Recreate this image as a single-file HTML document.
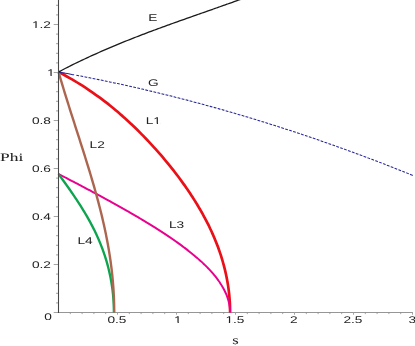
<!DOCTYPE html>
<html><head><meta charset="utf-8"><style>
html,body{margin:0;padding:0;background:#fff;}
body{width:415px;height:346px;overflow:hidden;font-family:"Liberation Sans",sans-serif;}
svg{display:block}
</style></head><body>
<svg width="415" height="346" viewBox="0 0 415 346">
<defs><clipPath id="c0"><path clip-rule="evenodd" d="M-60,-30H60V30H-60ZM-2.31,-1.48H-0.25V0.00H-2.31ZM0.67,-1.48H2.54V0.00H0.67Z"/></clipPath><clipPath id="c1"><path clip-rule="evenodd" d="M-60,-30H60V30H-60ZM-6.35,-1.48H-4.30V0.00H-6.35ZM-3.38,-1.48H-1.50V0.00H-3.38Z"/></clipPath><clipPath id="c2"><path clip-rule="evenodd" d="M-60,-30H60V30H-60ZM-5.01,-0.88H-2.95V0.60H-5.01ZM-2.03,-0.88H-0.16V0.60H-2.03Z"/></clipPath><clipPath id="c3"><path clip-rule="evenodd" d="M-60,-30H60V30H-60ZM-13.10,-0.88H-11.04V0.60H-13.10ZM-10.12,-0.88H-8.25V0.60H-10.12Z"/></clipPath><clipPath id="c4"><path clip-rule="evenodd" d="M-60,-30H60V30H-60ZM0.39,-1.08H2.44V0.40H0.39ZM3.37,-1.08H5.24V0.40H3.37Z"/></clipPath></defs>
<rect width="415" height="346" fill="#fff"/>
<line x1="58.0" y1="312.5" x2="413" y2="312.5" stroke="#969696" stroke-width="1"/>
<g fill="none" stroke-linecap="butt" stroke-linejoin="round">
<path d="M58.58,72.00 C59.53,72.51 62.43,74.03 64.28,75.04 C66.14,76.06 67.96,77.07 69.73,78.09 C71.51,79.10 73.24,80.12 74.94,81.13 C76.64,82.15 78.30,83.16 79.92,84.18 C81.55,85.19 83.14,86.21 84.71,87.22 C86.27,88.24 87.80,89.25 89.30,90.27 C90.80,91.28 92.27,92.30 93.72,93.31 C95.17,94.32 96.59,95.34 97.98,96.35 C99.38,97.37 100.75,98.38 102.10,99.40 C103.45,100.41 104.78,101.43 106.08,102.44 C107.39,103.46 108.67,104.47 109.94,105.49 C111.20,106.50 112.45,107.52 113.68,108.53 C114.91,109.55 116.12,110.56 117.31,111.58 C118.51,112.59 119.68,113.61 120.85,114.62 C122.01,115.64 123.15,116.65 124.29,117.66 C125.42,118.68 126.54,119.69 127.64,120.71 C128.75,121.72 129.84,122.74 130.92,123.75 C132.00,124.77 133.06,125.78 134.12,126.80 C135.17,127.81 136.21,128.83 137.25,129.84 C138.28,130.86 139.30,131.87 140.31,132.89 C141.32,133.90 142.32,134.92 143.30,135.93 C144.29,136.95 145.27,137.96 146.24,138.97 C147.21,139.99 148.17,141.00 149.12,142.02 C150.07,143.03 151.01,144.05 151.94,145.06 C152.87,146.08 153.79,147.09 154.71,148.11 C155.62,149.12 156.53,150.14 157.42,151.15 C158.32,152.17 159.21,153.18 160.09,154.20 C160.97,155.21 161.84,156.23 162.70,157.24 C163.56,158.26 164.42,159.27 165.27,160.28 C166.11,161.30 166.95,162.31 167.78,163.33 C168.61,164.34 169.44,165.36 170.25,166.37 C171.06,167.39 171.87,168.40 172.67,169.42 C173.47,170.43 174.26,171.45 175.04,172.46 C175.83,173.48 176.60,174.49 177.37,175.51 C178.14,176.52 178.90,177.54 179.65,178.55 C180.40,179.57 181.14,180.58 181.88,181.59 C182.62,182.61 183.35,183.62 184.07,184.64 C184.79,185.65 185.50,186.67 186.20,187.68 C186.91,188.70 187.60,189.71 188.29,190.73 C188.98,191.74 189.66,192.76 190.33,193.77 C191.01,194.79 191.67,195.80 192.33,196.82 C192.98,197.83 193.63,198.85 194.27,199.86 C194.91,200.88 195.54,201.89 196.17,202.91 C196.79,203.92 197.40,204.93 198.01,205.95 C198.62,206.96 199.22,207.98 199.81,208.99 C200.40,210.01 200.98,211.02 201.56,212.04 C202.13,213.05 202.70,214.07 203.25,215.08 C203.81,216.10 204.36,217.11 204.90,218.13 C205.44,219.14 205.97,220.16 206.49,221.17 C207.02,222.19 207.53,223.20 208.04,224.22 C208.55,225.23 209.04,226.24 209.53,227.26 C210.02,228.27 210.50,229.29 210.97,230.30 C211.45,231.32 211.91,232.33 212.36,233.35 C212.82,234.36 213.26,235.38 213.70,236.39 C214.14,237.41 214.57,238.42 214.99,239.44 C215.41,240.45 215.82,241.47 216.22,242.48 C216.63,243.50 217.02,244.51 217.40,245.53 C217.79,246.54 218.17,247.55 218.53,248.57 C218.90,249.58 219.26,250.60 219.61,251.61 C219.96,252.63 220.30,253.64 220.63,254.66 C220.97,255.67 221.29,256.69 221.61,257.70 C221.92,258.72 222.23,259.73 222.52,260.75 C222.82,261.76 223.11,262.78 223.39,263.79 C223.67,264.81 223.94,265.82 224.20,266.84 C224.47,267.85 224.72,268.86 224.97,269.88 C225.21,270.89 225.45,271.91 225.67,272.92 C225.90,273.94 226.12,274.95 226.33,275.97 C226.54,276.98 226.74,278.00 226.93,279.01 C227.12,280.03 227.31,281.04 227.48,282.06 C227.66,283.07 227.82,284.09 227.98,285.10 C228.14,286.12 228.29,287.13 228.43,288.15 C228.57,289.16 228.70,290.18 228.82,291.19 C228.94,292.20 229.05,293.22 229.16,294.23 C229.26,295.25 229.36,296.26 229.45,297.28 C229.53,298.29 229.61,299.31 229.68,300.32 C229.75,301.34 229.81,302.35 229.87,303.37 C229.92,304.38 229.96,305.40 230.00,306.41 C230.03,307.43 230.06,308.44 230.08,309.46 C230.09,310.47 230.10,311.99 230.10,312.50" stroke="#ea1018" stroke-width="2.7"/>
<path d="M58.55,174.00 C59.12,174.29 60.83,175.17 61.96,175.75 C63.10,176.34 64.23,176.92 65.36,177.51 C66.49,178.09 67.62,178.68 68.74,179.26 C69.87,179.84 70.99,180.43 72.11,181.01 C73.23,181.60 74.35,182.18 75.47,182.77 C76.58,183.35 77.70,183.93 78.81,184.52 C79.92,185.10 81.03,185.69 82.14,186.27 C83.25,186.86 84.35,187.44 85.45,188.03 C86.56,188.61 87.66,189.19 88.75,189.78 C89.85,190.36 90.95,190.95 92.04,191.53 C93.13,192.12 94.22,192.70 95.31,193.28 C96.39,193.87 97.48,194.45 98.56,195.04 C99.64,195.62 100.72,196.21 101.80,196.79 C102.87,197.38 103.95,197.96 105.02,198.54 C106.08,199.13 107.15,199.71 108.22,200.30 C109.28,200.88 110.34,201.47 111.40,202.05 C112.46,202.64 113.51,203.22 114.56,203.80 C115.61,204.39 116.66,204.97 117.70,205.56 C118.75,206.14 119.79,206.73 120.82,207.31 C121.86,207.89 122.89,208.48 123.92,209.06 C124.95,209.65 125.98,210.23 127.00,210.82 C128.02,211.40 129.03,211.99 130.05,212.57 C131.06,213.15 132.07,213.74 133.07,214.32 C134.08,214.91 135.08,215.49 136.07,216.08 C137.07,216.66 138.06,217.24 139.05,217.83 C140.03,218.41 141.02,219.00 141.99,219.58 C142.97,220.17 143.94,220.75 144.91,221.34 C145.88,221.92 146.84,222.50 147.79,223.09 C148.75,223.67 149.70,224.26 150.65,224.84 C151.59,225.43 152.54,226.01 153.47,226.59 C154.41,227.18 155.33,227.76 156.26,228.35 C157.18,228.93 158.10,229.52 159.01,230.10 C159.92,230.69 160.83,231.27 161.73,231.85 C162.63,232.44 163.52,233.02 164.41,233.61 C165.30,234.19 166.18,234.78 167.05,235.36 C167.93,235.95 168.79,236.53 169.65,237.11 C170.52,237.70 171.37,238.28 172.22,238.87 C173.06,239.45 173.90,240.04 174.74,240.62 C175.57,241.20 176.40,241.79 177.21,242.37 C178.03,242.96 178.84,243.54 179.65,244.13 C180.45,244.71 181.25,245.30 182.04,245.88 C182.83,246.46 183.61,247.05 184.38,247.63 C185.15,248.22 185.92,248.80 186.67,249.39 C187.43,249.97 188.18,250.55 188.92,251.14 C189.66,251.72 190.39,252.31 191.12,252.89 C191.84,253.48 192.56,254.06 193.27,254.65 C193.97,255.23 194.67,255.81 195.36,256.40 C196.05,256.98 196.73,257.57 197.40,258.15 C198.07,258.74 198.74,259.32 199.39,259.91 C200.04,260.49 200.69,261.07 201.32,261.66 C201.96,262.24 202.59,262.83 203.20,263.41 C203.82,264.00 204.43,264.58 205.02,265.16 C205.62,265.75 206.21,266.33 206.79,266.92 C207.37,267.50 207.93,268.09 208.49,268.67 C209.05,269.26 209.60,269.84 210.14,270.42 C210.68,271.01 211.21,271.59 211.72,272.18 C212.24,272.76 212.75,273.35 213.25,273.93 C213.75,274.51 214.23,275.10 214.71,275.68 C215.19,276.27 215.65,276.85 216.11,277.44 C216.57,278.02 217.01,278.61 217.45,279.19 C217.88,279.77 218.31,280.36 218.72,280.94 C219.13,281.53 219.54,282.11 219.93,282.70 C220.32,283.28 220.70,283.86 221.07,284.45 C221.44,285.03 221.80,285.62 222.14,286.20 C222.49,286.79 222.83,287.37 223.15,287.96 C223.48,288.54 223.79,289.12 224.10,289.71 C224.40,290.29 224.69,290.88 224.97,291.46 C225.25,292.05 225.52,292.63 225.78,293.22 C226.03,293.80 226.28,294.38 226.51,294.97 C226.75,295.55 226.97,296.14 227.18,296.72 C227.39,297.31 227.59,297.89 227.78,298.47 C227.97,299.06 228.15,299.64 228.31,300.23 C228.48,300.81 228.63,301.40 228.77,301.98 C228.91,302.57 229.04,303.15 229.16,303.73 C229.28,304.32 229.38,304.90 229.48,305.49 C229.57,306.07 229.66,306.66 229.73,307.24 C229.80,307.82 229.86,308.41 229.90,308.99 C229.95,309.58 229.99,310.16 230.01,310.75 C230.03,311.33 230.04,312.21 230.05,312.50" stroke="#ea008e" stroke-width="1.95"/>
<path d="M58.55,174.00 C58.76,174.29 59.39,175.17 59.81,175.75 C60.24,176.34 60.66,176.92 61.08,177.51 C61.50,178.09 61.92,178.68 62.34,179.26 C62.77,179.84 63.19,180.43 63.61,181.01 C64.03,181.60 64.45,182.18 64.86,182.77 C65.28,183.35 65.70,183.93 66.12,184.52 C66.53,185.10 66.95,185.69 67.36,186.27 C67.78,186.86 68.19,187.44 68.60,188.03 C69.01,188.61 69.42,189.19 69.83,189.78 C70.24,190.36 70.65,190.95 71.06,191.53 C71.46,192.12 71.87,192.70 72.27,193.28 C72.67,193.87 73.07,194.45 73.47,195.04 C73.87,195.62 74.26,196.21 74.66,196.79 C75.05,197.38 75.45,197.96 75.84,198.54 C76.23,199.13 76.61,199.71 77.00,200.30 C77.39,200.88 77.77,201.47 78.15,202.05 C78.53,202.64 78.91,203.22 79.29,203.80 C79.66,204.39 80.04,204.97 80.41,205.56 C80.78,206.14 81.15,206.73 81.51,207.31 C81.88,207.89 82.24,208.48 82.60,209.06 C82.96,209.65 83.32,210.23 83.67,210.82 C84.03,211.40 84.38,211.99 84.73,212.57 C85.08,213.15 85.43,213.74 85.77,214.32 C86.11,214.91 86.45,215.49 86.79,216.08 C87.13,216.66 87.46,217.24 87.79,217.83 C88.13,218.41 88.45,219.00 88.78,219.58 C89.11,220.17 89.43,220.75 89.75,221.34 C90.07,221.92 90.38,222.50 90.70,223.09 C91.01,223.67 91.32,224.26 91.63,224.84 C91.93,225.43 92.24,226.01 92.54,226.59 C92.84,227.18 93.13,227.76 93.43,228.35 C93.72,228.93 94.01,229.52 94.30,230.10 C94.59,230.69 94.87,231.27 95.15,231.85 C95.43,232.44 95.71,233.02 95.98,233.61 C96.26,234.19 96.53,234.78 96.80,235.36 C97.07,235.95 97.33,236.53 97.59,237.11 C97.85,237.70 98.11,238.28 98.37,238.87 C98.62,239.45 98.87,240.04 99.12,240.62 C99.37,241.20 99.61,241.79 99.85,242.37 C100.10,242.96 100.33,243.54 100.57,244.13 C100.80,244.71 101.04,245.30 101.26,245.88 C101.49,246.46 101.72,247.05 101.94,247.63 C102.16,248.22 102.38,248.80 102.60,249.39 C102.81,249.97 103.02,250.55 103.23,251.14 C103.44,251.72 103.65,252.31 103.85,252.89 C104.05,253.48 104.25,254.06 104.45,254.65 C104.64,255.23 104.83,255.81 105.02,256.40 C105.21,256.98 105.40,257.57 105.58,258.15 C105.77,258.74 105.95,259.32 106.12,259.91 C106.30,260.49 106.47,261.07 106.64,261.66 C106.81,262.24 106.98,262.83 107.14,263.41 C107.31,264.00 107.47,264.58 107.63,265.16 C107.79,265.75 107.94,266.33 108.09,266.92 C108.24,267.50 108.39,268.09 108.54,268.67 C108.68,269.26 108.82,269.84 108.96,270.42 C109.10,271.01 109.24,271.59 109.37,272.18 C109.50,272.76 109.63,273.35 109.76,273.93 C109.89,274.51 110.01,275.10 110.13,275.68 C110.25,276.27 110.37,276.85 110.49,277.44 C110.60,278.02 110.71,278.61 110.82,279.19 C110.93,279.77 111.04,280.36 111.14,280.94 C111.24,281.53 111.34,282.11 111.44,282.70 C111.54,283.28 111.63,283.86 111.72,284.45 C111.81,285.03 111.90,285.62 111.99,286.20 C112.07,286.79 112.15,287.37 112.23,287.96 C112.31,288.54 112.39,289.12 112.46,289.71 C112.54,290.29 112.61,290.88 112.67,291.46 C112.74,292.05 112.81,292.63 112.87,293.22 C112.93,293.80 112.99,294.38 113.05,294.97 C113.10,295.55 113.16,296.14 113.21,296.72 C113.26,297.31 113.31,297.89 113.35,298.47 C113.40,299.06 113.44,299.64 113.48,300.23 C113.52,300.81 113.55,301.40 113.59,301.98 C113.62,302.57 113.65,303.15 113.68,303.73 C113.71,304.32 113.73,304.90 113.76,305.49 C113.78,306.07 113.80,306.66 113.81,307.24 C113.83,307.82 113.85,308.41 113.86,308.99 C113.87,309.58 113.88,310.16 113.88,310.75 C113.89,311.33 113.89,312.21 113.89,312.50" stroke="#0ca44e" stroke-width="2.35"/>
<path d="M58.54,72.00 C58.68,72.51 59.13,74.03 59.42,75.04 C59.72,76.06 60.02,77.07 60.32,78.09 C60.62,79.10 60.92,80.12 61.22,81.13 C61.52,82.15 61.83,83.16 62.13,84.18 C62.43,85.19 62.74,86.21 63.05,87.22 C63.36,88.24 63.66,89.25 63.97,90.27 C64.28,91.28 64.59,92.30 64.91,93.31 C65.22,94.32 65.53,95.34 65.85,96.35 C66.16,97.37 66.48,98.38 66.79,99.40 C67.11,100.41 67.42,101.43 67.74,102.44 C68.06,103.46 68.38,104.47 68.70,105.49 C69.02,106.50 69.34,107.52 69.66,108.53 C69.98,109.55 70.30,110.56 70.62,111.58 C70.95,112.59 71.27,113.61 71.59,114.62 C71.92,115.64 72.24,116.65 72.56,117.66 C72.89,118.68 73.21,119.69 73.54,120.71 C73.86,121.72 74.19,122.74 74.51,123.75 C74.84,124.77 75.17,125.78 75.49,126.80 C75.82,127.81 76.14,128.83 76.47,129.84 C76.80,130.86 77.12,131.87 77.45,132.89 C77.77,133.90 78.10,134.92 78.43,135.93 C78.75,136.95 79.08,137.96 79.40,138.97 C79.73,139.99 80.05,141.00 80.38,142.02 C80.70,143.03 81.03,144.05 81.35,145.06 C81.67,146.08 82.00,147.09 82.32,148.11 C82.64,149.12 82.97,150.14 83.29,151.15 C83.61,152.17 83.93,153.18 84.25,154.20 C84.57,155.21 84.89,156.23 85.21,157.24 C85.52,158.26 85.84,159.27 86.16,160.28 C86.47,161.30 86.79,162.31 87.10,163.33 C87.42,164.34 87.73,165.36 88.04,166.37 C88.35,167.39 88.66,168.40 88.97,169.42 C89.28,170.43 89.59,171.45 89.90,172.46 C90.20,173.48 90.51,174.49 90.81,175.51 C91.11,176.52 91.42,177.54 91.72,178.55 C92.02,179.57 92.32,180.58 92.61,181.59 C92.91,182.61 93.20,183.62 93.50,184.64 C93.79,185.65 94.08,186.67 94.37,187.68 C94.66,188.70 94.95,189.71 95.23,190.73 C95.52,191.74 95.80,192.76 96.08,193.77 C96.36,194.79 96.64,195.80 96.92,196.82 C97.19,197.83 97.47,198.85 97.74,199.86 C98.01,200.88 98.28,201.89 98.55,202.91 C98.81,203.92 99.08,204.93 99.34,205.95 C99.60,206.96 99.86,207.98 100.12,208.99 C100.38,210.01 100.63,211.02 100.88,212.04 C101.13,213.05 101.38,214.07 101.63,215.08 C101.87,216.10 102.12,217.11 102.36,218.13 C102.60,219.14 102.83,220.16 103.07,221.17 C103.30,222.19 103.53,223.20 103.76,224.22 C103.99,225.23 104.21,226.24 104.43,227.26 C104.66,228.27 104.87,229.29 105.09,230.30 C105.31,231.32 105.52,232.33 105.73,233.35 C105.93,234.36 106.14,235.38 106.34,236.39 C106.54,237.41 106.74,238.42 106.94,239.44 C107.13,240.45 107.32,241.47 107.51,242.48 C107.70,243.50 107.88,244.51 108.07,245.53 C108.25,246.54 108.42,247.55 108.60,248.57 C108.77,249.58 108.94,250.60 109.11,251.61 C109.27,252.63 109.44,253.64 109.59,254.66 C109.75,255.67 109.91,256.69 110.06,257.70 C110.21,258.72 110.36,259.73 110.50,260.75 C110.64,261.76 110.78,262.78 110.92,263.79 C111.05,264.81 111.18,265.82 111.31,266.84 C111.44,267.85 111.56,268.86 111.68,269.88 C111.80,270.89 111.92,271.91 112.03,272.92 C112.14,273.94 112.25,274.95 112.35,275.97 C112.45,276.98 112.55,278.00 112.64,279.01 C112.74,280.03 112.83,281.04 112.92,282.06 C113.00,283.07 113.08,284.09 113.16,285.10 C113.24,286.12 113.31,287.13 113.38,288.15 C113.45,289.16 113.52,290.18 113.58,291.19 C113.64,292.20 113.69,293.22 113.75,294.23 C113.80,295.25 113.85,296.26 113.89,297.28 C113.93,298.29 113.97,299.31 114.01,300.32 C114.04,301.34 114.07,302.35 114.10,303.37 C114.13,304.38 114.15,305.40 114.16,306.41 C114.18,307.43 114.20,308.44 114.20,309.46 C114.21,310.47 114.22,311.99 114.22,312.50" stroke="#ac6650" stroke-width="2.4"/>
<path d="M58.50,71.99 C58.87,72.05 59.99,72.25 60.73,72.38 C61.47,72.52 62.22,72.65 62.96,72.78 C63.71,72.92 64.45,73.05 65.19,73.19 C65.94,73.32 66.68,73.46 67.42,73.59 C68.17,73.73 68.91,73.87 69.65,74.00 C70.40,74.14 71.14,74.28 71.88,74.42 C72.63,74.55 73.74,74.76 74.12,74.83" stroke="#262696" stroke-width="1.05"/>
<path d="M76.35,75.25 C76.72,75.32 77.83,75.53 78.58,75.68 C79.32,75.82 80.06,75.96 80.81,76.10 C81.55,76.24 82.30,76.39 83.04,76.53 C83.78,76.68 84.53,76.82 85.27,76.96 C86.01,77.11 86.76,77.25 87.50,77.40 C88.24,77.55 88.99,77.69 89.73,77.84 C90.48,77.99 91.22,78.13 91.96,78.28 C92.71,78.43 93.45,78.58 94.19,78.73 C94.94,78.88 95.68,79.03 96.42,79.18 C97.17,79.33 97.91,79.48 98.65,79.63 C99.40,79.78 100.14,79.93 100.89,80.09 C101.63,80.24 102.37,80.39 103.12,80.54 C103.86,80.70 104.60,80.85 105.35,81.01 C106.09,81.16 106.83,81.32 107.58,81.47 C108.32,81.63 109.07,81.78 109.81,81.94 C110.55,82.10 111.30,82.26 112.04,82.41 C112.78,82.57 113.53,82.73 114.27,82.89 C115.01,83.05 115.76,83.21 116.50,83.37 C117.24,83.53 117.99,83.69 118.73,83.85 C119.48,84.01 120.22,84.17 120.96,84.33 C121.71,84.50 122.45,84.66 123.19,84.82 C123.94,84.98 124.68,85.15 125.42,85.31 C126.17,85.48 126.91,85.64 127.66,85.81 C128.40,85.97 129.14,86.14 129.89,86.30 C130.63,86.47 131.37,86.64 132.12,86.81 C132.86,86.97 133.60,87.14 134.35,87.31 C135.09,87.48 135.84,87.65 136.58,87.82 C137.32,87.99 138.07,88.16 138.81,88.33 C139.55,88.50 140.30,88.67 141.04,88.84 C141.78,89.01 142.53,89.19 143.27,89.36 C144.01,89.53 144.76,89.71 145.50,89.88 C146.25,90.05 146.99,90.23 147.73,90.40 C148.48,90.58 149.22,90.76 149.96,90.93 C150.71,91.11 151.45,91.28 152.19,91.46 C152.94,91.64 153.68,91.82 154.43,92.00 C155.17,92.17 155.91,92.35 156.66,92.53 C157.40,92.71 158.14,92.89 158.89,93.07 C159.63,93.25 160.37,93.43 161.12,93.61 C161.86,93.80 162.60,93.98 163.35,94.16 C164.09,94.34 164.84,94.53 165.58,94.71 C166.32,94.89 167.07,95.08 167.81,95.26 C168.55,95.45 169.30,95.63 170.04,95.82 C170.78,96.01 171.53,96.19 172.27,96.38 C173.02,96.57 173.76,96.75 174.50,96.94 C175.25,97.13 175.99,97.32 176.73,97.51 C177.48,97.70 178.22,97.89 178.96,98.08 C179.71,98.27 180.45,98.46 181.19,98.65 C181.94,98.84 182.68,99.03 183.43,99.22 C184.17,99.42 184.91,99.61 185.66,99.80 C186.40,100.00 187.14,100.19 187.89,100.38 C188.63,100.58 189.37,100.77 190.12,100.97 C190.86,101.16 191.61,101.36 192.35,101.56 C193.09,101.75 193.84,101.95 194.58,102.15 C195.32,102.35 196.07,102.54 196.81,102.74 C197.55,102.94 198.30,103.14 199.04,103.34 C199.79,103.54 200.53,103.74 201.27,103.94 C202.02,104.14 202.76,104.35 203.50,104.55 C204.25,104.75 204.99,104.95 205.73,105.15 C206.48,105.36 207.22,105.56 207.96,105.77 C208.71,105.97 209.45,106.17 210.20,106.38 C210.94,106.58 211.68,106.79 212.43,107.00 C213.17,107.20 213.91,107.41 214.66,107.62 C215.40,107.82 216.14,108.03 216.89,108.24 C217.63,108.45 218.38,108.66 219.12,108.87 C219.86,109.08 220.61,109.29 221.35,109.50 C222.09,109.71 222.84,109.92 223.58,110.13 C224.32,110.34 225.07,110.55 225.81,110.77 C226.55,110.98 227.30,111.19 228.04,111.41 C228.79,111.62 229.53,111.83 230.27,112.05 C231.02,112.26 231.76,112.48 232.50,112.70 C233.25,112.91 233.99,113.13 234.73,113.34 C235.48,113.56 236.22,113.78 236.97,114.00 C237.71,114.22 238.45,114.43 239.20,114.65 C239.94,114.87 240.68,115.09 241.43,115.31 C242.17,115.53 242.91,115.75 243.66,115.97 C244.40,116.20 245.15,116.42 245.89,116.64 C246.63,116.86 247.38,117.08 248.12,117.31 C248.86,117.53 249.61,117.75 250.35,117.98 C251.09,118.20 251.84,118.43 252.58,118.65 C253.32,118.88 254.07,119.11 254.81,119.33 C255.56,119.56 256.30,119.79 257.04,120.01 C257.79,120.24 258.53,120.47 259.27,120.70 C260.02,120.93 260.76,121.16 261.50,121.39 C262.25,121.62 262.99,121.85 263.74,122.08 C264.48,122.31 265.22,122.54 265.97,122.77 C266.71,123.00 267.45,123.23 268.20,123.47 C268.94,123.70 269.68,123.93 270.43,124.17 C271.17,124.40 271.91,124.64 272.66,124.87 C273.40,125.11 274.15,125.34 274.89,125.58 C275.63,125.81 276.38,126.05 277.12,126.29 C277.86,126.52 278.61,126.76 279.35,127.00 C280.09,127.24 280.84,127.48 281.58,127.72 C282.33,127.96 283.07,128.20 283.81,128.44 C284.56,128.68 285.30,128.92 286.04,129.16 C286.79,129.40 287.53,129.64 288.27,129.89 C289.02,130.13 289.76,130.37 290.51,130.61 C291.25,130.86 291.99,131.10 292.74,131.35 C293.48,131.59 294.22,131.84 294.97,132.08 C295.71,132.33 296.45,132.57 297.20,132.82 C297.94,133.07 298.68,133.31 299.43,133.56 C300.17,133.81 300.92,134.06 301.66,134.31 C302.40,134.56 303.15,134.80 303.89,135.05 C304.63,135.30 305.38,135.56 306.12,135.81 C306.86,136.06 307.61,136.31 308.35,136.56 C309.10,136.81 309.84,137.07 310.58,137.32 C311.33,137.57 312.07,137.82 312.81,138.08 C313.56,138.33 314.30,138.59 315.04,138.84 C315.79,139.10 316.53,139.35 317.27,139.61 C318.02,139.87 318.76,140.12 319.51,140.38 C320.25,140.64 320.99,140.90 321.74,141.15 C322.48,141.41 323.22,141.67 323.97,141.93 C324.71,142.19 325.45,142.45 326.20,142.71 C326.94,142.97 327.69,143.23 328.43,143.49 C329.17,143.75 329.92,144.02 330.66,144.28 C331.40,144.54 332.15,144.80 332.89,145.07 C333.63,145.33 334.38,145.60 335.12,145.86 C335.86,146.13 336.61,146.39 337.35,146.66 C338.10,146.92 338.84,147.19 339.58,147.46 C340.33,147.72 341.07,147.99 341.81,148.26 C342.56,148.52 343.30,148.79 344.04,149.06 C344.79,149.33 345.53,149.60 346.28,149.87 C347.02,150.14 347.76,150.41 348.51,150.68 C349.25,150.95 349.99,151.22 350.74,151.50 C351.48,151.77 352.22,152.04 352.97,152.31 C353.71,152.59 354.46,152.86 355.20,153.14 C355.94,153.41 356.69,153.68 357.43,153.96 C358.17,154.23 358.92,154.51 359.66,154.79 C360.40,155.06 361.15,155.34 361.89,155.62 C362.63,155.89 363.38,156.17 364.12,156.45 C364.87,156.73 365.61,157.01 366.35,157.29 C367.10,157.57 367.84,157.85 368.58,158.13 C369.33,158.41 370.07,158.69 370.81,158.97 C371.56,159.25 372.30,159.53 373.05,159.82 C373.79,160.10 374.53,160.38 375.28,160.66 C376.02,160.95 376.76,161.23 377.51,161.52 C378.25,161.80 378.99,162.09 379.74,162.37 C380.48,162.66 381.22,162.94 381.97,163.23 C382.71,163.52 383.46,163.81 384.20,164.09 C384.94,164.38 385.69,164.67 386.43,164.96 C387.17,165.25 387.92,165.54 388.66,165.83 C389.40,166.12 390.15,166.41 390.89,166.70 C391.64,166.99 392.38,167.28 393.12,167.57 C393.87,167.86 394.61,168.16 395.35,168.45 C396.10,168.74 396.84,169.04 397.58,169.33 C398.33,169.62 399.07,169.92 399.82,170.21 C400.56,170.51 401.30,170.80 402.05,171.10 C402.79,171.40 403.53,171.69 404.28,171.99 C405.02,172.29 405.76,172.59 406.51,172.88 C407.25,173.18 407.99,173.48 408.74,173.78 C409.48,174.08 410.23,174.38 410.97,174.68 C411.71,174.98 412.83,175.43 413.20,175.58" stroke="#262696" stroke-width="1.05" stroke-dasharray="2.8 1.35"/>
<path d="M58.50,71.97 C58.90,71.77 60.08,71.14 60.87,70.73 C61.66,70.32 62.46,69.90 63.25,69.50 C64.04,69.09 64.83,68.68 65.62,68.28 C66.41,67.87 67.20,67.47 67.99,67.07 C68.78,66.67 69.58,66.28 70.37,65.88 C71.16,65.48 71.95,65.09 72.74,64.70 C73.53,64.31 74.32,63.92 75.11,63.53 C75.91,63.14 76.70,62.76 77.49,62.38 C78.28,61.99 79.07,61.61 79.86,61.23 C80.65,60.85 81.44,60.48 82.23,60.10 C83.03,59.72 83.82,59.35 84.61,58.98 C85.40,58.61 86.19,58.24 86.98,57.87 C87.77,57.50 88.56,57.14 89.35,56.77 C90.15,56.41 90.94,56.04 91.73,55.68 C92.52,55.32 93.31,54.96 94.10,54.61 C94.89,54.25 95.68,53.89 96.47,53.54 C97.27,53.19 98.06,52.83 98.85,52.48 C99.64,52.13 100.43,51.78 101.22,51.44 C102.01,51.09 102.80,50.74 103.59,50.40 C104.39,50.05 105.18,49.71 105.97,49.37 C106.76,49.03 107.55,48.69 108.34,48.35 C109.13,48.01 109.92,47.68 110.72,47.34 C111.51,47.01 112.30,46.67 113.09,46.34 C113.88,46.01 114.67,45.68 115.46,45.35 C116.25,45.02 117.04,44.69 117.84,44.36 C118.63,44.04 119.42,43.71 120.21,43.39 C121.00,43.06 121.79,42.74 122.58,42.42 C123.37,42.10 124.16,41.78 124.96,41.46 C125.75,41.14 126.54,40.82 127.33,40.51 C128.12,40.19 128.91,39.87 129.70,39.56 C130.49,39.25 131.28,38.93 132.08,38.62 C132.87,38.31 133.66,38.00 134.45,37.69 C135.24,37.38 136.03,37.07 136.82,36.76 C137.61,36.45 138.41,36.15 139.20,35.84 C139.99,35.54 140.78,35.23 141.57,34.93 C142.36,34.63 143.15,34.32 143.94,34.02 C144.73,33.72 145.53,33.42 146.32,33.12 C147.11,32.82 147.90,32.52 148.69,32.22 C149.48,31.93 150.27,31.63 151.06,31.33 C151.85,31.04 152.65,30.74 153.44,30.45 C154.23,30.15 155.02,29.86 155.81,29.56 C156.60,29.27 157.39,28.98 158.18,28.69 C158.97,28.40 159.77,28.10 160.56,27.81 C161.35,27.52 162.14,27.23 162.93,26.95 C163.72,26.66 164.51,26.37 165.30,26.08 C166.09,25.79 166.89,25.51 167.68,25.22 C168.47,24.93 169.26,24.65 170.05,24.36 C170.84,24.08 171.63,23.79 172.42,23.51 C173.22,23.22 174.01,22.94 174.80,22.66 C175.59,22.37 176.38,22.09 177.17,21.81 C177.96,21.52 178.75,21.24 179.54,20.96 C180.34,20.68 181.13,20.40 181.92,20.12 C182.71,19.83 183.50,19.55 184.29,19.27 C185.08,18.99 185.87,18.71 186.66,18.43 C187.46,18.15 188.25,17.87 189.04,17.59 C189.83,17.32 190.62,17.04 191.41,16.76 C192.20,16.48 192.99,16.20 193.78,15.92 C194.58,15.64 195.37,15.36 196.16,15.09 C196.95,14.81 197.74,14.53 198.53,14.25 C199.32,13.97 200.11,13.70 200.91,13.42 C201.70,13.14 202.49,12.86 203.28,12.58 C204.07,12.31 204.86,12.03 205.65,11.75 C206.44,11.47 207.23,11.20 208.03,10.92 C208.82,10.64 209.61,10.36 210.40,10.08 C211.19,9.81 211.98,9.53 212.77,9.25 C213.56,8.97 214.35,8.69 215.15,8.41 C215.94,8.13 216.73,7.86 217.52,7.58 C218.31,7.30 219.10,7.02 219.89,6.74 C220.68,6.46 221.47,6.18 222.27,5.90 C223.06,5.62 223.85,5.34 224.64,5.06 C225.43,4.78 226.22,4.50 227.01,4.22 C227.80,3.93 228.59,3.65 229.39,3.37 C230.18,3.09 230.97,2.81 231.76,2.52 C232.55,2.24 233.34,1.96 234.13,1.67 C234.92,1.39 235.72,1.11 236.51,0.82 C237.30,0.54 238.09,0.25 238.88,-0.04 C239.67,-0.32 240.46,-0.61 241.25,-0.89 C242.04,-1.18 242.84,-1.47 243.63,-1.76 C244.42,-2.05 245.60,-2.48 246.00,-2.62" stroke="#1a1a1a" stroke-width="1.3"/>
</g>
<g stroke="#a4a4a4" stroke-width="1" fill="none"><line x1="117.50" y1="312.5" x2="117.50" y2="314.7"/><line x1="176.50" y1="312.5" x2="176.50" y2="314.7"/><line x1="235.50" y1="312.5" x2="235.50" y2="314.7"/><line x1="294.50" y1="312.5" x2="294.50" y2="314.7"/><line x1="353.50" y1="312.5" x2="353.50" y2="314.7"/><line x1="412.50" y1="312.5" x2="412.50" y2="314.7"/><line x1="58.5" y1="312.50" x2="53.7" y2="312.50"/><line x1="58.5" y1="264.50" x2="53.7" y2="264.50"/><line x1="58.5" y1="216.50" x2="53.7" y2="216.50"/><line x1="58.5" y1="168.50" x2="53.7" y2="168.50"/><line x1="58.5" y1="120.50" x2="53.7" y2="120.50"/><line x1="58.5" y1="72.50" x2="53.7" y2="72.50"/><line x1="58.5" y1="24.50" x2="53.7" y2="24.50"/></g>
<g stroke="#8c8c8c" stroke-width="0.8" fill="none"><line x1="70.30" y1="312.5" x2="70.30" y2="314.1"/><line x1="82.10" y1="312.5" x2="82.10" y2="314.1"/><line x1="93.90" y1="312.5" x2="93.90" y2="314.1"/><line x1="105.70" y1="312.5" x2="105.70" y2="314.1"/><line x1="129.30" y1="312.5" x2="129.30" y2="314.1"/><line x1="141.10" y1="312.5" x2="141.10" y2="314.1"/><line x1="152.90" y1="312.5" x2="152.90" y2="314.1"/><line x1="164.70" y1="312.5" x2="164.70" y2="314.1"/><line x1="188.30" y1="312.5" x2="188.30" y2="314.1"/><line x1="200.10" y1="312.5" x2="200.10" y2="314.1"/><line x1="211.90" y1="312.5" x2="211.90" y2="314.1"/><line x1="223.70" y1="312.5" x2="223.70" y2="314.1"/><line x1="247.30" y1="312.5" x2="247.30" y2="314.1"/><line x1="259.10" y1="312.5" x2="259.10" y2="314.1"/><line x1="270.90" y1="312.5" x2="270.90" y2="314.1"/><line x1="282.70" y1="312.5" x2="282.70" y2="314.1"/><line x1="306.30" y1="312.5" x2="306.30" y2="314.1"/><line x1="318.10" y1="312.5" x2="318.10" y2="314.1"/><line x1="329.90" y1="312.5" x2="329.90" y2="314.1"/><line x1="341.70" y1="312.5" x2="341.70" y2="314.1"/><line x1="365.30" y1="312.5" x2="365.30" y2="314.1"/><line x1="377.10" y1="312.5" x2="377.10" y2="314.1"/><line x1="388.90" y1="312.5" x2="388.90" y2="314.1"/><line x1="400.70" y1="312.5" x2="400.70" y2="314.1"/><line x1="58.5" y1="302.90" x2="56.0" y2="302.90"/><line x1="58.5" y1="293.30" x2="56.0" y2="293.30"/><line x1="58.5" y1="283.70" x2="56.0" y2="283.70"/><line x1="58.5" y1="274.10" x2="56.0" y2="274.10"/><line x1="58.5" y1="254.90" x2="56.0" y2="254.90"/><line x1="58.5" y1="245.30" x2="56.0" y2="245.30"/><line x1="58.5" y1="235.70" x2="56.0" y2="235.70"/><line x1="58.5" y1="226.10" x2="56.0" y2="226.10"/><line x1="58.5" y1="206.90" x2="56.0" y2="206.90"/><line x1="58.5" y1="197.30" x2="56.0" y2="197.30"/><line x1="58.5" y1="187.70" x2="56.0" y2="187.70"/><line x1="58.5" y1="178.10" x2="56.0" y2="178.10"/><line x1="58.5" y1="158.90" x2="56.0" y2="158.90"/><line x1="58.5" y1="149.30" x2="56.0" y2="149.30"/><line x1="58.5" y1="139.70" x2="56.0" y2="139.70"/><line x1="58.5" y1="130.10" x2="56.0" y2="130.10"/><line x1="58.5" y1="110.90" x2="56.0" y2="110.90"/><line x1="58.5" y1="101.30" x2="56.0" y2="101.30"/><line x1="58.5" y1="91.70" x2="56.0" y2="91.70"/><line x1="58.5" y1="82.10" x2="56.0" y2="82.10"/><line x1="58.5" y1="62.90" x2="56.0" y2="62.90"/><line x1="58.5" y1="53.30" x2="56.0" y2="53.30"/><line x1="58.5" y1="43.70" x2="56.0" y2="43.70"/><line x1="58.5" y1="34.10" x2="56.0" y2="34.10"/><line x1="58.5" y1="14.90" x2="56.0" y2="14.90"/><line x1="58.5" y1="5.30" x2="56.0" y2="5.30"/></g>
<line x1="58.5" y1="0" x2="58.5" y2="313.0" stroke="#464646" stroke-width="1.08"/>
<g fill="#222" text-rendering="geometricPrecision" opacity="0.999"><text transform="translate(116.90,323.40) scale(1.41,1)" font-family="Liberation Sans" font-size="9.7" text-anchor="middle">0.5</text><text transform="translate(177.90,323.40) scale(1.41,1)" font-family="Liberation Sans" font-size="9.7" text-anchor="middle" clip-path="url(#c0)">1</text><text transform="translate(234.90,323.40) scale(1.41,1)" font-family="Liberation Sans" font-size="9.7" text-anchor="middle" clip-path="url(#c1)">1.5</text><text transform="translate(293.90,323.40) scale(1.41,1)" font-family="Liberation Sans" font-size="9.7" text-anchor="middle">2</text><text transform="translate(352.90,323.40) scale(1.41,1)" font-family="Liberation Sans" font-size="9.7" text-anchor="middle">2.5</text><text transform="translate(416.00,323.40) scale(1.41,1)" font-family="Liberation Sans" font-size="9.7" text-anchor="end">3</text><text transform="translate(48.00,320.40) scale(1.41,1)" font-family="Liberation Sans" font-size="9.7" text-anchor="middle">0</text><text transform="translate(50.90,267.80) scale(1.41,1)" font-family="Liberation Sans" font-size="9.7" text-anchor="end">0.2</text><text transform="translate(50.90,219.80) scale(1.41,1)" font-family="Liberation Sans" font-size="9.7" text-anchor="end">0.4</text><text transform="translate(50.90,171.80) scale(1.41,1)" font-family="Liberation Sans" font-size="9.7" text-anchor="end">0.6</text><text transform="translate(50.90,123.80) scale(1.41,1)" font-family="Liberation Sans" font-size="9.7" text-anchor="end">0.8</text><text transform="translate(54.60,75.80) scale(1.41,1)" font-family="Liberation Sans" font-size="9.7" text-anchor="end" clip-path="url(#c2)">1</text><text transform="translate(50.90,27.80) scale(1.41,1)" font-family="Liberation Sans" font-size="9.7" text-anchor="end" clip-path="url(#c3)">1.2</text><text transform="translate(152.80,20.60) scale(1.41,1)" font-family="Liberation Sans" font-size="9.7" text-anchor="middle">E</text><text transform="translate(153.30,85.60) scale(1.41,1)" font-family="Liberation Sans" font-size="9.7" text-anchor="middle">G</text><text transform="translate(153.30,124.00) scale(1.41,1)" font-family="Liberation Sans" font-size="9.7" text-anchor="middle" clip-path="url(#c4)">L1</text><text transform="translate(97.20,148.30) scale(1.41,1)" font-family="Liberation Sans" font-size="9.7" text-anchor="middle">L2</text><text transform="translate(176.50,228.00) scale(1.41,1)" font-family="Liberation Sans" font-size="9.7" text-anchor="middle">L3</text><text transform="translate(85.00,244.00) scale(1.41,1)" font-family="Liberation Sans" font-size="9.7" text-anchor="middle">L4</text><text transform="translate(11.70,160.50) scale(1.53,1)" font-family="Liberation Serif" font-size="11.4" text-anchor="middle" stroke="#222" stroke-width="0.04">Phi</text><text transform="translate(235.50,343.90) scale(1.38,1)" font-family="Liberation Serif" font-size="12" text-anchor="middle" stroke="#222" stroke-width="0.03">s</text></g>
</svg>
</body></html>
